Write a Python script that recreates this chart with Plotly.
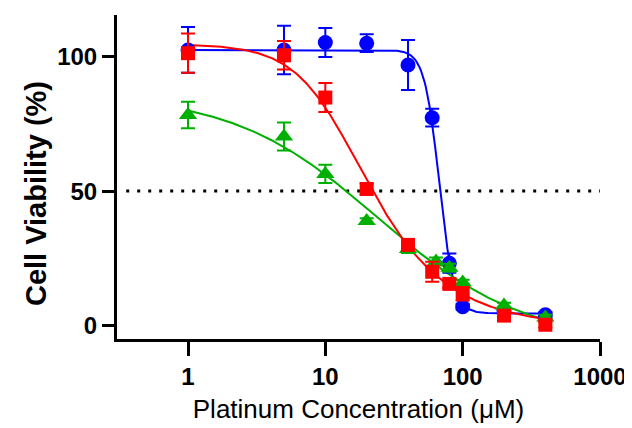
import numpy as np
import plotly.graph_objects as go

# ---- data ----
conc = [1, 5, 10, 20, 40, 60, 80, 100, 200, 400]
conc_green = [1, 5, 10, 20, 40, 64, 80, 100, 200, 400]

blue_mean = [102.5, 102.5, 105.3, 105.0, 96.9, 77.3, 23.2, 7.0, 5.5, 4.0]
blue_err = [8.5, 9.0, 5.4, 3.3, 9.3, 3.3, 3.6, 1.0, 1.0, 1.0]

red_mean = [101.3, 100.5, 84.8, 50.8, 30.0, 20.0, 15.5, 11.8, 3.7, 0.3]
red_err = [7.3, 5.3, 5.4, 2.0, 2.0, 3.7, 1.5, 2.5, 1.0, 1.0]

green_mean = [78.3, 70.3, 56.4, 38.9, 28.5, 23.8, 21.5, 16.0, 7.5, 3.0]
green_err = [4.9, 5.2, 3.4, 1.0, 1.5, 1.5, 1.5, 1.0, 1.0, 1.0]

# fitted dose-response parameters: top, bottom, logIC50, hill, asymmetry
blue_fit = [102.5, 4.5, 1.8287, 8.1, 1.0]
red_fit = [104.68, -0.557, 1.093, 2.02, 0.508]
green_fit = [86.18, -6.12, 1.383, 0.825, 1.0]

x_ticks = [1, 10, 100, 1000]
y_ticks = [0, 50, 100]
ref_line = 50

BLUE, RED, GREEN = "#0000FF", "#FF0000", "#00B000"
FONT = "Arial, Liberation Sans, sans-serif"


def dose_response(p, x):
    top, bottom, logc, hill, s = p
    return bottom + (top - bottom) / (1 + (x / 10 ** logc) ** hill) ** s


xs = np.logspace(0, np.log10(400), 300)

fig = go.Figure()

# 50% reference line
fig.add_trace(go.Scatter(x=[10 ** -0.45, 1000], y=[ref_line, ref_line], mode="lines",
                         line=dict(color="black", width=3, dash="3px,8px"),
                         hoverinfo="skip"))

series = [
    (conc, blue_mean, blue_err, blue_fit, BLUE, "circle", 15),
    (conc_green, green_mean, green_err, green_fit, GREEN, "triangle-up", 16),
    (conc, red_mean, red_err, red_fit, RED, "square", 14),
]

for cx, m, e, p, col, sym, sz in series:
    fig.add_trace(go.Scatter(x=xs, y=dose_response(p, xs), mode="lines",
                             line=dict(color=col, width=2), hoverinfo="skip"))
for cx, m, e, p, col, sym, sz in series:
    fig.add_trace(go.Scatter(x=cx, y=m, mode="markers",
                             marker=dict(color=col, symbol=sym, size=sz, line=dict(width=0)),
                             error_y=dict(type="data", array=e, visible=True, color=col,
                                          thickness=2, width=7)))

fig.update_xaxes(type="log", range=[-0.517, 3], tickvals=x_ticks,
                 ticktext=[str(v) for v in x_ticks],
                 showline=True, linecolor="black", linewidth=3, ticks="outside",
                 ticklen=14, tickwidth=3, tickcolor="black", showgrid=False, zeroline=False,
                 tickfont=dict(family=FONT, size=24, color="black", weight="bold"),
                 title=dict(text="Platinum Concentration (μM)", standoff=12,
                            font=dict(family=FONT, size=26, color="black")))
fig.update_yaxes(range=[-5, 115.5], tickvals=y_ticks, showline=True, linecolor="black",
                 linewidth=3, ticks="outside", ticklen=12, tickwidth=3, tickcolor="black",
                 showgrid=False, zeroline=False,
                 tickfont=dict(family=FONT, size=24, color="black", weight="bold"))

fig.add_annotation(text="Cell Viability (%)", xref="paper", yref="paper",
                   x=-0.168, y=0.45, xanchor="center", yanchor="middle", textangle=-90,
                   showarrow=False,
                   font=dict(family=FONT, size=29, color="black", weight="bold"))

fig.update_layout(width=632, height=428, showlegend=False, plot_bgcolor="white",
                  paper_bgcolor="white", margin=dict(l=109, r=40, t=7, b=97,
                                                     autoexpand=False))
fig.write_html("out.html")
